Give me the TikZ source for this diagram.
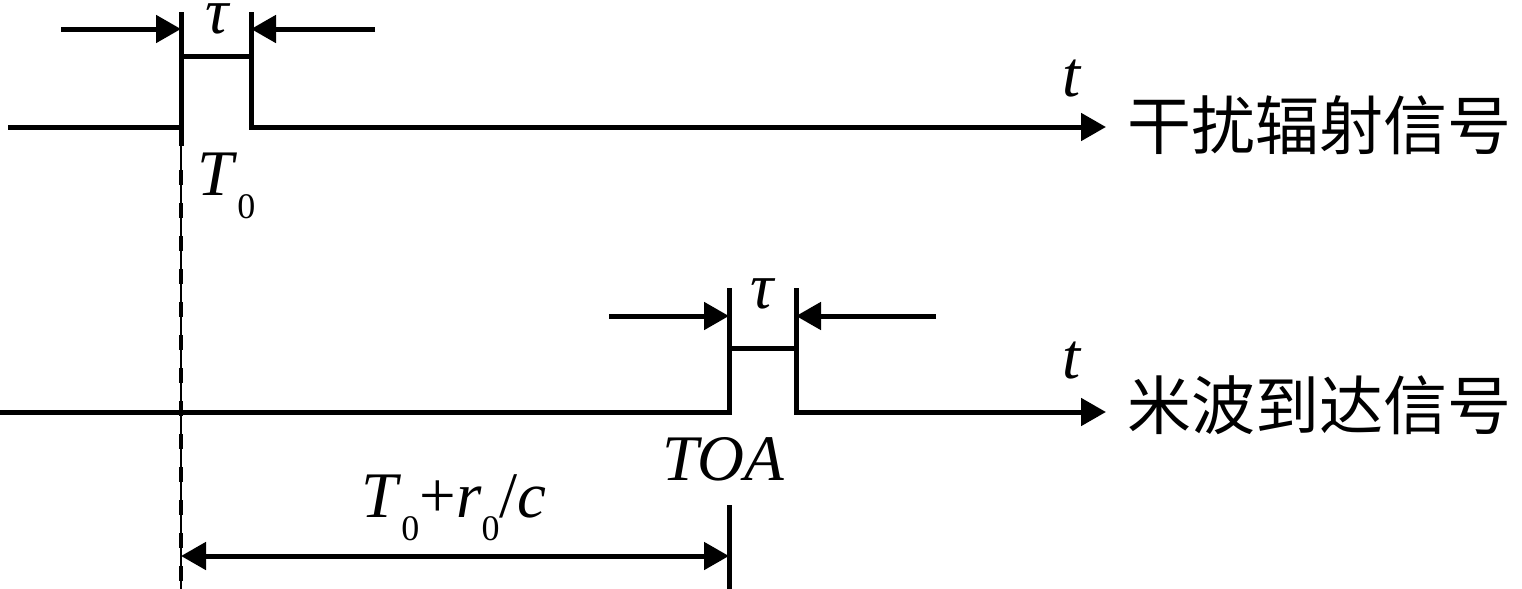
\documentclass[tikz,border=0pt]{standalone}
\usepackage{fontspec}
\setmainfont{Liberation Serif}
\newfontfamily\cjk{Noto Sans CJK SC}
\usetikzlibrary{arrows.meta}
\newcommand\mysub[1]{\raisebox{-11.5pt}{\fontsize{18}{18}\selectfont #1}}
\tikzset{
  sig/.style={line width=2.5pt},
  arr/.style={line width=2.5pt,-{Triangle[length=12.5pt,width=13.5pt]}},
  dimarr/.style={line width=2.5pt,{Triangle[length=12.5pt,width=13.5pt]}-{Triangle[length=12.5pt,width=13.5pt]}},
  lbl/.style={inner sep=0pt,font=\fontsize{32.5}{36}\selectfont},
  cjklbl/.style={inner sep=0pt,anchor=west,font=\cjk\fontsize{32}{36}\selectfont},
}
\begin{document}
\begin{tikzpicture}[x=0.5pt,y=-0.5pt]
\useasboundingbox (0,0) rectangle (1522,589);
% coordinates
\coordinate (a0) at (8,127);
\coordinate (a1) at (181,127);
\coordinate (a1t) at (181,12);
\coordinate (a1b) at (181,146);
\coordinate (a1p) at (181,56);
\coordinate (a2p) at (251,56);
\coordinate (a2t) at (251,12);
\coordinate (aend) at (1106,127);
\coordinate (al) at (61,29);
\coordinate (alt) at (181,29);
\coordinate (ar) at (375,29);
\coordinate (art) at (251,29);
\coordinate (b0) at (0,412);
\coordinate (b1t) at (729,288);
\coordinate (b1p) at (729,348);
\coordinate (b2p) at (796,348);
\coordinate (b2t) at (796,288);
\coordinate (bend) at (1106,412);
\coordinate (bl) at (609,316);
\coordinate (blt) at (729,316);
\coordinate (br) at (936,316);
\coordinate (brt) at (796,316);
\coordinate (dtop) at (181,146);
\coordinate (dstart) at (181,170);
\coordinate (dbot) at (181,589);
\coordinate (m0) at (181,556);
\coordinate (m1) at (729,556);
\coordinate (tk0) at (729,505);
\coordinate (tk1) at (729,589);
% top signal
\draw[sig] (a0) -- (a1);
\draw[sig] (a1t) -- (a1b);
\draw[sig] (a1p) -- (a2p);
\draw[arr] (a2t) |- (aend);
\draw[arr] (al) -- (alt);
\draw[arr] (ar) -- (art);
% bottom signal
\draw[sig] (b0) -| (b1t);
\draw[sig] (b1p) -- (b2p);
\draw[arr] (b2t) |- (bend);
\draw[arr] (bl) -- (blt);
\draw[arr] (br) -- (brt);
% dashed reference line
\draw[line width=0.65pt] (dtop) -- (dbot);
\draw[line width=2pt,dash pattern=on 7.5pt off 9pt] (dstart) -- (dbot);
% measurement
\draw[dimarr] (m0) -- (m1);
\draw[sig] (tk0) -- (tk1);
% labels
\node[lbl,anchor=base] (tau1) at (218,33) {\textit{τ}};
\node[lbl,anchor=base] (tau2) at (763,308) {\textit{τ}};
\node[lbl,anchor=base west] (t0) at (197,195) {\textit{T}\mysub{0}};
\node[lbl,anchor=base west] (toa) at (662,480) {\textit{TOA}};
\node[lbl,anchor=base west] (sum) at (361,517) {\textit{T}\mysub{0}+\textit{r}\mysub{0}/\textit{c}};
\node[lbl,anchor=base] (ta) at (1072,97) {\textit{t}};
\node[lbl,anchor=base] (tb) at (1072,378) {\textit{t}};
\node[cjklbl] (s1) at (1127,125) {干扰辐射信号};
\node[cjklbl] (s2) at (1127,405) {米波到达信号};
\end{tikzpicture}
\end{document}
